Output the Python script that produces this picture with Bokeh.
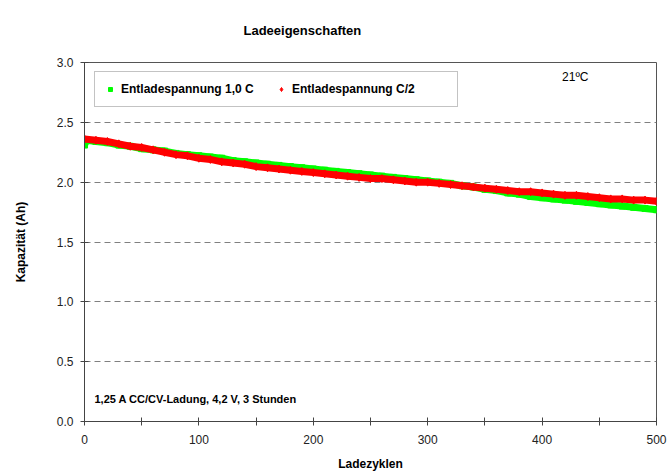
from bokeh.plotting import figure
from bokeh.models import Range1d, FixedTicker, Label, Legend, LegendItem, NumeralTickFormatter, Title
from bokeh.embed import file_html
from bokeh.resources import INLINE

title_text = "Ladeeigenschaften"
x_label = "Ladezyklen"
y_label = "Kapazität (Ah)"
series_green = "Entladespannung 1,0 C"
series_red = "Entladespannung C/2"
temp_text = "21ºC"
note_text = "1,25 A CC/CV-Ladung, 4,2 V, 3 Stunden"

green_cycles = [0, 2, 10, 20, 30, 40, 50, 60, 70, 80, 90, 100, 110, 120, 130, 140, 150, 160, 170, 180, 190,
                200, 210, 220, 230, 240, 250, 260, 270, 280, 290, 300, 310, 320, 330, 340, 350, 360, 370,
                380, 390, 400, 410, 420, 430, 440, 450, 460, 470, 480, 490, 500]
green_cap = [2.31, 2.35, 2.34, 2.33, 2.31, 2.30, 2.28, 2.27, 2.26, 2.24, 2.23, 2.22, 2.21, 2.20, 2.18, 2.17,
             2.16, 2.15, 2.14, 2.13, 2.12, 2.11, 2.10, 2.09, 2.08, 2.07, 2.06, 2.05, 2.04, 2.03, 2.02, 2.01,
             2.00, 1.99, 1.97, 1.96, 1.94, 1.93, 1.91, 1.90, 1.88, 1.87, 1.86, 1.85, 1.84, 1.83, 1.82, 1.81,
             1.80, 1.79, 1.78, 1.77]

red_cycles = [0, 10, 20, 30, 40, 50, 60, 70, 80, 90, 100, 110, 120, 130, 140, 150, 160, 170, 180, 190,
              200, 210, 220, 230, 240, 250, 260, 270, 280, 290, 300, 310, 320, 330, 340, 350, 360, 370,
              380, 390, 400, 410, 420, 430, 440, 450, 460, 470, 480, 490, 500]
red_cap = [2.36, 2.35, 2.34, 2.32, 2.30, 2.29, 2.27, 2.25, 2.23, 2.22, 2.20, 2.19, 2.17, 2.16, 2.15, 2.13,
           2.12, 2.11, 2.10, 2.09, 2.08, 2.07, 2.06, 2.05, 2.04, 2.03, 2.03, 2.02, 2.01, 2.00, 2.00, 1.99,
           1.98, 1.97, 1.96, 1.95, 1.94, 1.93, 1.92, 1.92, 1.91, 1.90, 1.89, 1.89, 1.88, 1.87, 1.86, 1.86,
           1.85, 1.85, 1.84]

x_ticks = [0, 100, 200, 300, 400, 500]
x_minor = [50, 150, 250, 350, 450]
y_ticks = [0.0, 0.5, 1.0, 1.5, 2.0, 2.5, 3.0]

FONT = "Liberation Sans"
AXC = "#444444"

p = figure(width=668, height=474, output_backend="svg", toolbar_location=None, title=None,
           x_range=Range1d(0, 500), y_range=Range1d(0, 3.0),
           min_border_left=84, min_border_right=12, min_border_top=62, min_border_bottom=53)
p.background_fill_color = "white"
p.border_fill_color = "white"
p.outline_line_color = "#555555"
p.outline_line_width = 1

# title
p.add_layout(Title(text=title_text, align="left", offset=159, vertical_align="top", standoff=45,
                   text_font=FONT, text_font_style="bold", text_font_size="13px",
                   text_color="black"), "above")

# grid
p.xgrid.visible = False
p.ygrid.grid_line_color = "#808080"
p.ygrid.grid_line_dash = "6 4"
p.ygrid.grid_line_width = 1

# axes
p.xaxis.ticker = FixedTicker(ticks=x_ticks, minor_ticks=x_minor)
p.yaxis.ticker = FixedTicker(ticks=y_ticks)
p.yaxis.formatter = NumeralTickFormatter(format="0.0")
for ax in (p.xaxis[0], p.yaxis[0]):
    ax.axis_line_color = AXC
    ax.major_tick_line_color = AXC
    ax.minor_tick_line_color = AXC
    ax.major_tick_in = 4
    ax.major_tick_out = 4
    ax.minor_tick_in = 4
    ax.minor_tick_out = 4
    ax.major_label_text_font = FONT
    ax.major_label_text_font_size = "12px"
    ax.major_label_text_color = "#222222"
    ax.axis_label_text_font = FONT
    ax.axis_label_text_font_style = "bold"
    ax.axis_label_text_font_size = "12px"
    ax.axis_label_text_color = "black"
p.yaxis.minor_tick_line_color = None
p.xaxis.axis_label = x_label
p.yaxis.axis_label = y_label
p.xaxis.major_label_standoff = 9
p.yaxis.major_label_standoff = 7
p.xaxis.axis_label_standoff = 10
p.yaxis.axis_label_standoff = 26

# series
p.line(green_cycles, green_cap, line_color="#00ff00", line_width=7, line_join="round")
g = p.scatter(green_cycles, green_cap, marker="square", size=6, color="#00ff00")
p.line(red_cycles, red_cap, line_color="#ff0000", line_width=7, line_join="round")
r = p.scatter(red_cycles, red_cap, marker="diamond", size=8, color="#ff0000")

legend = Legend(items=[LegendItem(label=series_green, renderers=[g]),
                       LegendItem(label=series_red, renderers=[r])],
                orientation="horizontal", location=(10, 314))
legend.label_text_font = FONT
legend.label_text_font_style = "bold"
legend.label_text_font_size = "12px"
legend.label_text_color = "black"
legend.label_width = 155
legend.label_standoff = 6
legend.glyph_width = 10
legend.glyph_height = 12
legend.spacing = 0
legend.padding = 10
legend.margin = 0
legend.border_line_color = "#888888"
legend.border_line_width = 1
legend.background_fill_alpha = 1
p.add_layout(legend, "center")

# texts
p.add_layout(Label(x=429, y=2.883, text=temp_text, text_align="center", text_baseline="middle",
                   text_font=FONT, text_font_size="12px", text_color="black"))
p.add_layout(Label(x=8.7, y=0.192, text=note_text, text_align="left", text_baseline="middle",
                   text_font=FONT, text_font_style="bold", text_font_size="11px", text_color="black"))

open("out.html", "w").write(file_html(p, INLINE))
